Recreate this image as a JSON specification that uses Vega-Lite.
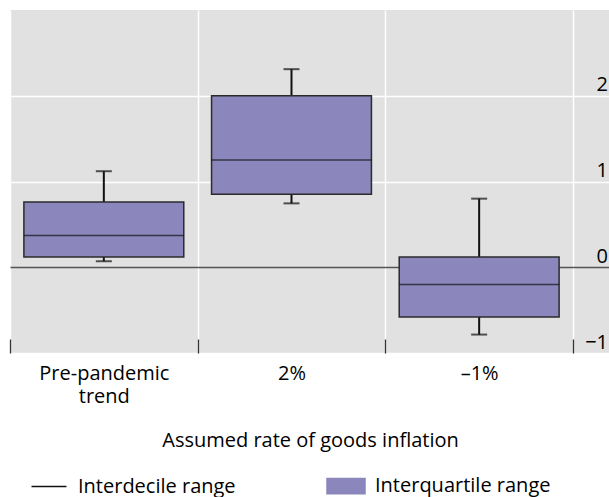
{
  "$schema": "https://vega.github.io/schema/vega-lite/v6.json",
  "width": 600,
  "height": 343,
  "padding": {"left": 9, "top": 10, "right": 0, "bottom": 0},
  "data": {
    "values": [
      {"cat": "Pre-pandemic trend", "p10": 0.07, "q1": 0.12, "med": 0.37, "q3": 0.76, "p90": 1.12},
      {"cat": "2%", "p10": 0.745, "q1": 0.85, "med": 1.25, "q3": 2.0, "p90": 2.31},
      {"cat": "–1%", "p10": -0.785, "q1": -0.58, "med": -0.2, "q3": 0.12, "p90": 0.8}
    ]
  },
  "encoding": {
    "x": {
      "field": "cat",
      "type": "nominal",
      "sort": null,
      "scale": {"domain": ["Pre-pandemic trend", "2%", "–1%"], "paddingInner": 0, "paddingOuter": 0.0986, "align": 0},
      "axis": {
        "title": "Assumed rate of goods inflation",
        "labelAngle": 0,
        "labelExpr": "datum.value == 'Pre-pandemic trend' ? ['Pre-pandemic', 'trend'] : datum.value",
        "labelLineHeight": 23,
        "labelPadding": 24,
        "domain": false,
        "ticks": true,
        "tickBand": "extent",
        "tickSize": -14,
        "tickColor": "#333333",
        "tickWidth": 1.3,
        "grid": true,
        "gridColor": "#ffffff",
        "gridWidth": 1.5,
        "titlePadding": 24
      }
    }
  },
  "layer": [
    {
      "mark": {"type": "rule", "strokeWidth": 2},
      "encoding": {
        "y": {
          "field": "p10",
          "type": "quantitative",
          "scale": {"domain": [-1, 3], "nice": false, "zero": false},
          "axis": {
            "orient": "right",
            "title": null,
            "values": [-1, 0, 1, 2],
            "labelExpr": "datum.value < 0 ? '−' + abs(datum.value) : datum.value",
            "domain": false,
            "ticks": false,
            "labelAlign": "right",
            "labelPadding": -2.5,
            "labelBaseline": "alphabetic",
            "labelOffset": -5,
            "grid": true,
            "gridColor": {"condition": {"test": "datum.value === 0", "value": "#555555"}, "value": "#ffffff"},
            "gridWidth": 1.5
          }
        },
        "y2": {"field": "p90"},
        "color": {
          "datum": "Interdecile range",
          "type": "nominal",
          "scale": {"domain": ["Interdecile range", "Interquartile range"], "range": ["#111111", "#8b87bd"]},
          "legend": {
            "title": null,
            "orient": "none",
            "direction": "horizontal",
            "legendX": 19,
            "legendY": 456,
            "columns": 2,
            "columnPadding": 88,
            "labelOffset": 9,
            "labelLimit": 400,
            "symbolSize": 1444,
            "encode": {
              "symbols": {
                "update": {
                  "shape": {"signal": "datum.value === 'Interdecile range' ? 'M-0.92,0H0.92' : 'M-1,-0.4H1V0.4H-1Z'"},
                  "fill": {"signal": "datum.value === 'Interdecile range' ? 'transparent' : '#8b87bd'"},
                  "stroke": {"signal": "datum.value === 'Interdecile range' ? '#111111' : '#333333'"},
                  "strokeWidth": {"value": 1.5},
                  "opacity": {"value": 1}
                }
              }
            }
          }
        }
      }
    },
    {
      "mark": {"type": "tick", "size": 16, "thickness": 2, "color": "#111111"},
      "encoding": {"y": {"field": "p10", "type": "quantitative"}}
    },
    {
      "mark": {"type": "tick", "size": 16, "thickness": 2, "color": "#111111"},
      "encoding": {"y": {"field": "p90", "type": "quantitative"}}
    },
    {
      "mark": {"type": "bar", "width": {"band": 0.852}, "stroke": "#2b2b2b", "strokeWidth": 1.5, "opacity": 1},
      "encoding": {
        "y": {"field": "q1", "type": "quantitative"},
        "y2": {"field": "q3"},
        "color": {"datum": "Interquartile range", "type": "nominal"}
      }
    },
    {
      "mark": {"type": "tick", "size": 160, "thickness": 1.5, "color": "#111111"},
      "encoding": {"y": {"field": "med", "type": "quantitative"}}
    }
  ],
  "resolve": {"scale": {"color": "shared"}},
  "config": {
    "font": "Open Sans",
    "view": {"fill": "#e0e1e0", "stroke": null},
    "axis": {
      "labelFont": "Open Sans",
      "labelFontSize": 20,
      "labelColor": "#000000",
      "titleFont": "Open Sans",
      "titleFontSize": 20,
      "titleFontWeight": "normal",
      "titleColor": "#000000"
    },
    "legend": {
      "labelFont": "Open Sans",
      "labelFontSize": 20,
      "labelColor": "#000000"
    }
  }
}
